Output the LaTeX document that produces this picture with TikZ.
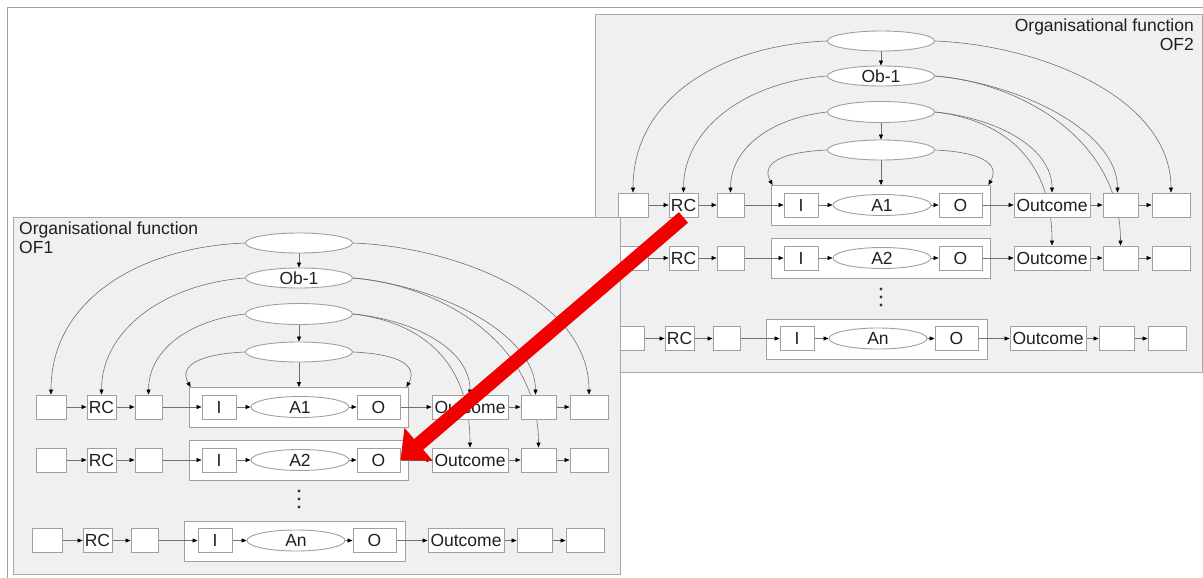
\documentclass[tikz,border=0pt]{standalone}
\usepackage{fontspec}
\setmainfont{Liberation Sans}
\usetikzlibrary{shapes.geometric,arrows.meta}
\pgfdeclarelayer{twobg}\pgfdeclarelayer{twoln}\pgfdeclarelayer{twofg}
\pgfdeclarelayer{onebg}\pgfdeclarelayer{oneln}\pgfdeclarelayer{onefg}
\pgfsetlayers{twobg,twoln,twofg,onebg,oneln,onefg,main}

\definecolor{panelfill}{HTML}{F0F0F0}
\definecolor{paneldraw}{HTML}{A8A8A8}
\definecolor{boxdraw}{HTML}{A0A0A0}
\definecolor{connc}{HTML}{707070}
\definecolor{bigred}{HTML}{F00000}
\definecolor{framec}{HTML}{A0A0A0}

\tikzset{
 lbl/.style={font=\fontsize{17.5}{18.5}\selectfont, text=black!88},
 box/.style={draw=boxdraw, fill=white, line width=0.9pt, minimum height=24pt, inner sep=0pt, lbl},
 ell/.style={ellipse, draw=boxdraw, fill=white, line width=0.9pt, inner sep=0pt, lbl},
 cont/.style={draw=boxdraw, fill=white, line width=0.9pt, minimum height=40pt, inner sep=0pt},
 panel/.style={draw=paneldraw, fill=panelfill, line width=1pt},
 conn/.style={draw=connc, line width=0.6pt, -{Triangle[length=5pt,width=4pt,black]}},
}

\newcommand\actrow[3]{%
 \node[box,minimum width=30pt] (b1r#1) at (51,#2) {};
 \node[box,minimum width=29pt] (rcr#1) at (101.5,#2) {RC};
 \node[box,minimum width=27pt] (b3r#1) at (148.5,#2) {};
 \node[box,minimum width=34pt] (ir#1) at (219,#2) {I};
 \node[ell,minimum width=98pt,minimum height=21pt] (ar#1) at (300,#2) {#3};
 \node[box,minimum width=43pt] (or#1) at (378.5,#2) {O};
 \node[box,minimum width=76pt] (ocr#1) at (470,#2) {Outcome};
 \node[box,minimum width=35pt] (b7r#1) at (538.5,#2) {};
 \node[box,minimum width=38pt] (b8r#1) at (589,#2) {};
}
\newcommand\rowlinks[1]{%
 \draw[conn] (b1r#1) -- (rcr#1);
 \draw[conn] (rcr#1) -- (b3r#1);
 \draw[conn] (b3r#1) -- (ir#1);
 \draw[conn] (ir#1) -- (ar#1);
 \draw[conn] (ar#1) -- (or#1);
 \draw[conn] (or#1) -- (ocr#1);
 \draw[conn] (ocr#1) -- (b7r#1);
 \draw[conn] (b7r#1) -- (b8r#1);
}
\newcommand\drawpanel[1]{%
 \begin{pgfonlayer}{#1bg}
  \draw[panel] (13,217) rectangle (620,574);
  \node[cont,minimum width=219pt] (c1) at (298.5,407.5) {};
  \node[cont,minimum width=219pt] (c2) at (298.5,460) {};
  \node[cont,minimum width=221pt] (c3) at (294.5,541) {};
 \end{pgfonlayer}
 \begin{pgfonlayer}{#1fg}
  \node[ell,minimum width=107pt,minimum height=20pt] (e0) at (299,243) {};
  \node[ell,minimum width=107pt,minimum height=20pt] (ob) at (299,278) {Ob-1};
  \node[ell,minimum width=107pt,minimum height=21pt] (e2) at (299,314) {};
  \node[ell,minimum width=107pt,minimum height=20pt] (e3) at (299,352) {};
  \actrow{1}{407}{A1}
  \actrow{2}{460}{A2}
  \begin{scope}[xshift=-4pt]
   \actrow{3}{540.5}{An}
  \end{scope}
  \fill[black!80] (299,491) circle (1.7pt) (299,499) circle (1.7pt) (299,507) circle (1.7pt);
 \end{pgfonlayer}
 \begin{pgfonlayer}{#1ln}
  \rowlinks{1}\rowlinks{2}\rowlinks{3}
  \draw[conn] (e0.south) -- (ob.north);
  \draw[conn] (e2.south) -- (e3.north);
  \draw[conn] (e3.south) -- (e3.south |- c1.north);
  \draw[conn] (e0.west) .. controls +(-105,4) and +(0,-95) .. (b1r1.north);
  \draw[conn] (e0.east) .. controls +(105,4) and +(0,-95) .. (b8r1.north);
  \draw[conn] (ob.west) .. controls +(-80,6) and +(0,-65) .. (rcr1.north);
  \draw[conn] (ob.east) .. controls +(88,8) and +(0,-60) .. ([xshift=-3pt]b7r1.north);
  \draw[conn] (ob.east) .. controls +(80,6) and +(0,-110) .. (b7r2.north);
  \draw[conn] (e2.west) .. controls +(-55,6) and +(0,-45) .. (b3r1.north);
  \draw[conn] (e2.east) .. controls +(62,6) and +(0,-45) .. (ocr1.north);
  \draw[conn] (e2.east) .. controls +(52,6) and +(0,-100) .. (ocr2.north);
  \draw[conn] (e3.west) .. controls +(-45,2) and +(-12,-22) .. ([xshift=2pt]c1.north west);
  \draw[conn] (e3.east) .. controls +(45,2) and +(12,-22) .. ([xshift=-2pt]c1.north east);
 \end{pgfonlayer}
}

\begin{document}
\begin{tikzpicture}[x=1pt,y=-1pt]
\useasboundingbox (0,0) rectangle (1203,578);
\draw[framec, line width=1pt] (7,578) -- (7,8) -- (1203,8);
\begin{scope}[shift={(582,-202)}, name prefix=two-]
 \drawpanel{two}
 \begin{pgfonlayer}{twofg}
  \node[lbl, anchor=north east, align=right, inner sep=0pt] (title) at (612,221) {Organisational function\\OF2};
 \end{pgfonlayer}
\end{scope}
\begin{scope}[name prefix=one-]
 \drawpanel{one}
 \begin{pgfonlayer}{onefg}
  \node[lbl, anchor=north west, align=left, inner sep=0pt] (title) at (19,222) {Organisational function\\OF1};
 \end{pgfonlayer}
\end{scope}
\draw[bigred, line width=14pt, -{Triangle[length=24pt,width=42pt]}] (two-rcr1.south) -- (one-or2.east);
\end{tikzpicture}
\end{document}
